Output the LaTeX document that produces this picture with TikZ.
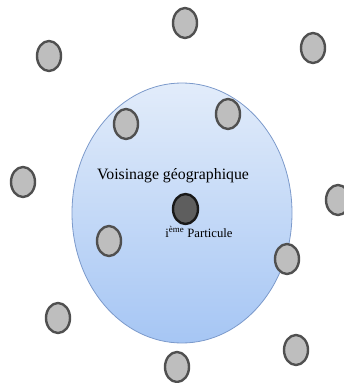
\documentclass[tikz,border=0pt]{standalone}
\usepackage{fontspec}
\setmainfont{Liberation Serif}
\usepackage{tikz}
\usetikzlibrary{shapes.geometric, positioning}
\definecolor{zoneTop}{HTML}{E2ECFA}
\definecolor{zoneBottom}{HTML}{A6C6F4}
\definecolor{zoneLine}{HTML}{7C9ACB}
\definecolor{partFill}{HTML}{BEBEBE}
\definecolor{partLine}{HTML}{505050}
\definecolor{selfFill}{HTML}{5E5E5E}
\tikzset{
    zonebox/.style={ellipse, minimum width=220pt, minimum height=260pt, inner sep=0pt,
        draw=zoneLine, line width=0.8pt, top color=zoneTop, bottom color=zoneBottom},
    particle/.style={ellipse, minimum width=24pt, minimum height=30pt, inner sep=0pt,
        draw=partLine, fill=partFill, line width=2.4pt},
    selfparticle/.style={particle, minimum width=25pt, draw=black!90, fill=selfFill},
}

\begin{document}
\begin{tikzpicture}[x=1pt, y=-1pt]
    \useasboundingbox (0,0) rectangle (343,383);

    \node[zonebox] (zone) at (182,213) {};

    % particules hors du voisinage
    \node[particle] (p1) at (185,23) {};
    \node[particle] (p2) at (313,48) {};
    \node[particle] (p3) at (49,56) {};
    \node[particle] (p4) at (23,182) {};
    \node[particle] (p5) at (338,200) {};
    \node[particle] (p6) at (58,318) {};
    \node[particle] (p7) at (296,350) {};
    \node[particle] (p8) at (177,367) {};

    % particules du voisinage
    \node[particle] (n1) at (126,124) {};
    \node[particle] (n2) at (228,114) {};
    \node[particle] (n3) at (109,241) {};
    \node[particle] (n4) at (287,259) {};

    \node[selfparticle] (self) at (185.5,209) {};

    \node[anchor=base, font=\fontsize{15.8}{18}\selectfont] (zonelabel) at (173,179) {Voisinage géographique};
    \node[anchor=base, font=\fontsize{12.7}{15}\selectfont] (selflabel) at (199,237) {i\textsuperscript{ème} Particule};
\end{tikzpicture}
\end{document}
